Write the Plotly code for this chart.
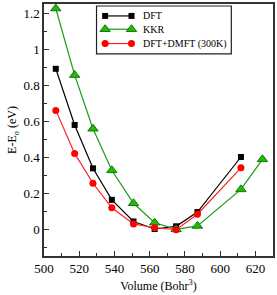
import plotly.graph_objects as go

volume_dft = [506.7, 517.4, 527.8, 538.5, 550.8, 562.8, 575.0, 587.1, 611.8]
e_dft = [0.89, 0.578, 0.337, 0.162, 0.042, 0.0, 0.015, 0.094, 0.40]

volume_kkr = [506.7, 517.4, 527.8, 538.5, 550.8, 562.8, 575.0, 587.1, 611.8, 624.0]
e_kkr = [1.225, 0.855, 0.557, 0.326, 0.143, 0.035, -0.002, 0.017, 0.22, 0.387]

volume_dmft = [506.7, 517.4, 527.8, 538.5, 550.8, 562.8, 575.0, 587.1, 611.8]
e_dmft = [0.659, 0.42, 0.254, 0.118, 0.028, 0.007, -0.004, 0.082, 0.34]

series_names = ["DFT", "KKR", "DFT+DMFT (300K)"]

FONT = "Liberation Serif, Times New Roman, DejaVu Serif, serif"

styles = [
    dict(line=dict(color="black", width=1.2),
         marker=dict(symbol="square", size=6, color="black")),
    dict(line=dict(color="#1a9a1a", width=1.2),
         marker=dict(symbol="triangle-up", size=9, color="#22bb00",
                     line=dict(color="#117711", width=1))),
    dict(line=dict(color="#ff2020", width=1.2),
         marker=dict(symbol="circle", size=7, color="#ff0000")),
]

fig = go.Figure()
for xs, ys, name, st in zip([volume_dft, volume_kkr, volume_dmft],
                            [e_dft, e_kkr, e_dmft], series_names, styles):
    fig.add_trace(go.Scatter(x=xs, y=ys, mode="lines+markers", name=name,
                             showlegend=False, **st))

# Compact legend drawn on an overlay axis (paper-like 0..1 coordinates)
leg_box = dict(x0=0.2294, x1=0.818, y0=0.802, y1=0.992)
leg_rows = [0.9526, 0.900, 0.843]
leg_sample = [0.267, 0.382]
leg_text_x = 0.4255

fig.add_shape(type="rect", xref="paper", yref="paper", **leg_box,
              line=dict(color="#222222", width=1.2), fillcolor="white", layer="below")
for name, st, ry in zip(series_names, styles, leg_rows):
    fig.add_trace(go.Scatter(x=leg_sample, y=[ry, ry], mode="lines+markers",
                             xaxis="x2", yaxis="y2", showlegend=False,
                             hoverinfo="skip", **st))
    fig.add_annotation(x=leg_text_x, y=ry, xref="paper", yref="paper", text=name,
                       showarrow=False, xanchor="left", yanchor="middle",
                       font=dict(family=FONT, size=10, color="black"))

axis_common = dict(showline=True, mirror=True, linecolor="#333333", linewidth=1.5,
                   ticks="inside", ticklen=5, tickcolor="#333333", tickwidth=1,
                   showgrid=False, zeroline=False,
                   tickfont=dict(family=FONT, size=13, color="black"))

fig.update_layout(
    xaxis=dict(range=[500, 630], dtick=20, tick0=500,
               minor=dict(dtick=10, ticks="inside", ticklen=3, tickcolor="#333333"),
               title=dict(text="Volume (Bohr<sup>3</sup>)", font=dict(family=FONT, size=12, color="black"),
                          standoff=6),
               **axis_common),
    yaxis=dict(range=[-0.15, 1.25], dtick=0.2, tick0=0,
               minor=dict(dtick=0.1, ticks="inside", ticklen=3, tickcolor="#333333"),
               title=dict(text="E-E<sub>o</sub> (eV)", font=dict(family=FONT, size=12, color="black"),
                          standoff=4),
               **axis_common),
    xaxis2=dict(range=[0, 1], overlaying="x", visible=False, fixedrange=True),
    yaxis2=dict(range=[0, 1], overlaying="y", visible=False, fixedrange=True),
    width=277, height=295,
    margin=dict(l=44, r=2, t=3, b=39),
    plot_bgcolor="white", paper_bgcolor="white",
    font=dict(family=FONT),
    showlegend=False,
)

fig.write_html("out.html", config={"displayModeBar": False},
               post_script="document.body.style.margin='0';document.body.style.overflow='hidden';")
